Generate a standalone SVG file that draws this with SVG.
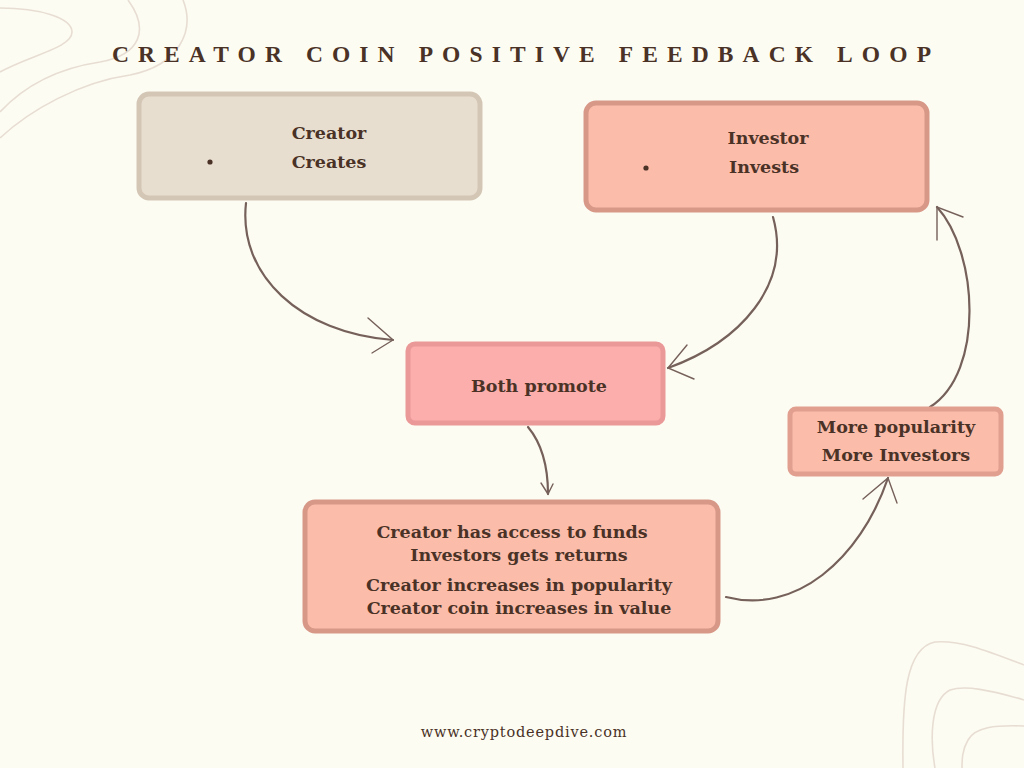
<svg xmlns="http://www.w3.org/2000/svg" width="1024" height="768" viewBox="0 0 1024 768">
<defs>
<style>
.t{font-family:"DejaVu Serif","Liberation Serif",serif;font-weight:bold;fill:#4a3226;text-anchor:middle;font-size:17.5px}
.box{stroke-width:5}
.c{fill:none;stroke:#76605a;stroke-width:2.2;stroke-linecap:round}
.h{fill:none;stroke:#76605a;stroke-width:1.4;stroke-linecap:round}
.deco{fill:none;stroke:#e8ddd2;stroke-width:1.6}
</style>
</defs>
<rect width="1024" height="768" fill="#fcfcf3"/>
<g id="decoration">
<path class="deco" d="M0,8 C40,8 72,18 72,32 C72,48 30,55 0,72"/>
<path class="deco" d="M128,0 C150,30 140,55 100,62 C60,68 25,85 0,112"/>
<path class="deco" d="M183,0 C195,30 180,65 130,75 C80,82 30,110 0,138"/>
<path class="deco" d="M1024,665 C985,650 960,640 935,642 C905,648 902,700 903,768"/>
<path class="deco" d="M1024,700 C990,690 965,685 950,690 C930,700 930,740 935,768"/>
<path class="deco" d="M1024,726 C995,725 975,727 968,740 C962,750 962,760 962,768"/>
</g>
<text x="526" y="62" font-family="'Liberation Serif','DejaVu Serif',serif" font-weight="bold" font-size="23.5" fill="#4a3226" text-anchor="middle" letter-spacing="9.1">CREATOR COIN POSITIVE FEEDBACK LOOP</text>
<g id="connectors">
<path class="c" d="M246,203 C238,275 300,333 393,340"/>
<path class="h" d="M368,318 L393,340 L372,353"/>
<path class="c" d="M773,217 C792,285 740,342 668,368"/>
<path class="h" d="M687,345 L668,368 L694,379"/>
<path class="c" d="M528,427 C543,445 548,468 548,494"/>
<path class="h" d="M541,483 L548,494 L553,484"/>
<path class="c" d="M726,597 C795,615 860,560 888,478"/>
<path class="h" d="M863,499 L888,478 L897,503"/>
<path class="c" d="M930,407 C985,372 978,252 937,207"/>
<path class="h" d="M937,240 L937,207 L963,217"/>
</g>
<g id="creator">
<rect class="box" x="139" y="94" width="341" height="104" rx="10" fill="#e8ded0" stroke="#d4c6b5"/>
<circle cx="210" cy="162" r="2.6" fill="#4a3226"/>
<text class="t" x="329" y="139">Creator</text>
<text class="t" x="329" y="168">Creates</text>
</g>
<g id="investor">
<rect class="box" x="586" y="103" width="341" height="107" rx="10" fill="#fbbcaa" stroke="#d89888"/>
<circle cx="646" cy="168" r="2.6" fill="#4a3226"/>
<text class="t" x="768" y="144">Investor</text>
<text class="t" x="764" y="173">Invests</text>
</g>
<g id="both-promote">
<rect class="box" x="408" y="344" width="255" height="79" rx="7" fill="#fbaeac" stroke="#eb9898"/>
<text class="t" x="539" y="392">Both promote</text>
</g>
<g id="results">
<rect class="box" x="305" y="502" width="413" height="129" rx="10" fill="#fbbcaa" stroke="#d89888"/>
<text class="t" x="512" y="538">Creator has access to funds</text>
<text class="t" x="519" y="561">Investors gets returns</text>
<text class="t" x="519" y="591">Creator increases in popularity</text>
<text class="t" x="519" y="614">Creator coin increases in value</text>
</g>
<g id="more-popularity">
<rect class="box" x="790" y="409" width="211" height="65" rx="6" fill="#fbbcaa" stroke="#e19f90"/>
<text class="t" x="896" y="433">More popularity</text>
<text class="t" x="896" y="461">More Investors</text>
</g>
<text x="524" y="737" font-family="'DejaVu Serif','Liberation Serif',serif" font-size="14.5" fill="#4a3226" text-anchor="middle" letter-spacing="0.8">www.cryptodeepdive.com</text>
</svg>
